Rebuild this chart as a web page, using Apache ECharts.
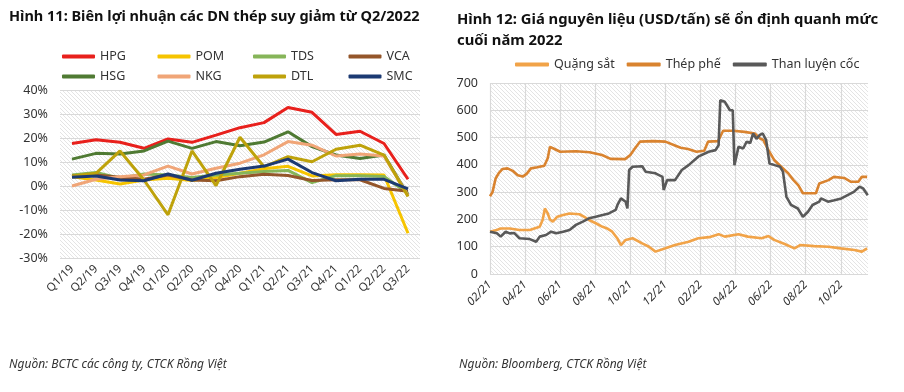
<!DOCTYPE html>
<html><head><meta charset="utf-8">
<script src="https://cdn.jsdelivr.net/npm/echarts@6/dist/echarts.min.js"></script>
<style>html,body{margin:0;padding:0;background:#fff}#c{width:904px;height:392px}</style>
</head><body><div id="c"></div>
<script>
// ---------- Chart 11 data ----------
const quarters = ['Q1/19','Q2/19','Q3/19','Q4/19','Q1/20','Q2/20','Q3/20','Q4/20','Q1/21','Q2/21','Q3/21','Q4/21','Q1/22','Q2/22','Q3/22'];
const HPG = [17.7, 19.3, 18.2, 15.7, 19.6, 18.2, 21.2, 24.3, 26.4, 32.7, 30.7, 21.5, 22.8, 17.7, 2.8];
const POM = [3.9, 2.5, 0.8, 2.5, 3.2, 2.3, 3.5, 5.3, 7.2, 8.2, 4.2, 4.7, 4.7, 4.6, -19.7];
const TDS = [4.6, 5.6, 3.2, 5.0, 4.6, 3.5, 4.6, 5.3, 6.0, 6.5, 1.4, 4.3, 4.3, 4.0, -3.0];
const VCA = [4.2, 4.6, 3.6, 2.8, 4.6, 2.5, 2.2, 3.9, 4.9, 4.4, 2.3, 2.6, 2.6, -1.0, -2.2];
const HSG = [11.2, 13.6, 13.3, 14.6, 18.7, 15.7, 18.5, 16.8, 18.3, 22.6, 16.4, 12.9, 11.5, 12.9, -3.8];
const NKG = [0.0, 2.8, 3.9, 4.6, 8.3, 5.0, 7.4, 9.5, 13.0, 18.5, 17.0, 12.5, 13.3, 12.5, -4.0];
const DTL = [4.2, 5.3, 14.6, 2.5, -12.0, 14.6, 0.2, 20.3, 8.0, 12.2, 10.1, 15.3, 17.0, 12.9, -4.4];
const SMC = [3.6, 4.2, 2.5, 2.2, 5.0, 2.4, 5.3, 7.0, 8.3, 11.2, 5.6, 2.2, 2.8, 2.8, -1.2];

// ---------- Chart 12 data (USD/tấn) ----------
const monthTickLabels = ['02/21','04/21','06/21','08/21','10/21','12/21','02/22','04/22','06/22','08/22','10/22'];
const oreDates = ['2021-02-01','2021-02-10','2021-02-18','2021-03-05','2021-03-22','2021-04-09','2021-04-26','2021-05-01','2021-05-05','2021-05-10','2021-05-14','2021-05-19','2021-05-27','2021-06-06','2021-06-17','2021-07-04','2021-07-12','2021-07-21','2021-08-02','2021-08-14','2021-08-22','2021-08-31','2021-09-09','2021-09-15','2021-09-23','2021-10-05','2021-10-22','2021-11-03','2021-11-14','2021-12-01','2021-12-18','2022-01-11','2022-01-28','2022-02-15','2022-03-02','2022-03-13','2022-04-06','2022-04-22','2022-05-16','2022-05-28','2022-06-07','2022-06-25','2022-07-12','2022-07-22','2022-08-16','2022-09-10','2022-10-01','2022-10-25','2022-11-07','2022-11-16'];
const oreValues = [155,160,167,167,161,161,173,198,240,222,200,192,210,216,222,219,210,198,186,173,167,155,130,106,125,131,112,100,82,94,106,118,131,135,146,137,146,137,131,139,125,110,94,106,102,100,94,88,82,94];
const scrapDates = ['2021-02-01','2021-02-05','2021-02-10','2021-02-15','2021-02-21','2021-03-01','2021-03-10','2021-03-19','2021-03-28','2021-04-04','2021-04-11','2021-04-22','2021-05-04','2021-05-10','2021-05-14','2021-05-22','2021-06-01','2021-06-28','2021-07-22','2021-08-13','2021-08-28','2021-09-22','2021-10-01','2021-10-09','2021-10-18','2021-11-10','2021-12-01','2021-12-19','2021-12-28','2022-01-10','2022-01-25','2022-02-07','2022-02-13','2022-03-01','2022-03-10','2022-03-28','2022-04-16','2022-05-04','2022-05-13','2022-05-19','2022-05-28','2022-06-07','2022-06-19','2022-07-01','2022-07-10','2022-07-19','2022-07-27','2022-08-19','2022-08-25','2022-09-10','2022-09-19','2022-10-07','2022-10-19','2022-11-01','2022-11-07','2022-11-16'];
const scrapValues = [285,300,350,370,385,387,378,362,357,368,387,391,397,424,466,458,448,450,446,436,422,421,436,460,485,487,485,470,463,458,448,452,485,487,525,525,521,515,497,491,454,418,393,369,345,325,296,296,332,344,356,352,338,338,356,356];
const cokeDates = ['2021-02-01','2021-02-12','2021-02-18','2021-02-26','2021-03-05','2021-03-13','2021-03-22','2021-04-09','2021-04-20','2021-04-26','2021-05-07','2021-05-16','2021-05-25','2021-06-06','2021-06-17','2021-06-28','2021-07-10','2021-07-21','2021-08-02','2021-08-14','2021-08-25','2021-09-06','2021-09-09','2021-09-15','2021-09-23','2021-09-26','2021-09-29','2021-10-05','2021-10-22','2021-10-28','2021-11-14','2021-11-26','2021-11-28','2021-12-04','2021-12-18','2021-12-30','2022-01-11','2022-01-28','2022-02-14','2022-02-25','2022-03-02','2022-03-05','2022-03-13','2022-03-22','2022-03-27','2022-03-30','2022-04-06','2022-04-14','2022-04-20','2022-04-26','2022-05-01','2022-05-07','2022-05-13','2022-05-18','2022-05-24','2022-05-30','2022-06-08','2022-06-17','2022-06-22','2022-06-28','2022-07-06','2022-07-18','2022-07-27','2022-08-05','2022-08-13','2022-08-25','2022-08-28','2022-09-09','2022-09-20','2022-10-02','2022-10-13','2022-10-24','2022-11-03','2022-11-09','2022-11-17'];
const cokeValues = [155,149,137,155,149,150,131,128,118,137,143,155,149,155,161,180,192,204,210,216,222,235,253,277,265,240,381,393,395,375,369,356,308,344,344,381,399,430,448,454,472,637,631,600,600,399,466,460,485,480,515,495,510,515,491,405,399,393,375,283,253,240,210,228,253,265,277,265,270,277,289,301,320,314,289];

// months elapsed since 2021-02-01
function toMonths(s){const p=s.split('-').map(Number);const dim=new Date(p[0],p[1],0).getDate();return (p[0]-2021)*12+(p[1]-2)+(p[2]-1)/dim;}
function pairs(d,v){return d.map((s,i)=>[toMonths(s),v[i]]);}

// hatch pattern
const pc=document.createElement('canvas');pc.width=4;pc.height=4;
const g=pc.getContext('2d');g.fillStyle='#ffffff';g.fillRect(0,0,4,4);
g.strokeStyle='#e4e4e4';g.lineWidth=1;g.beginPath();g.moveTo(-1,-1);g.lineTo(5,5);g.moveTo(3,-1);g.lineTo(5,1);g.moveTo(-1,3);g.lineTo(1,5);g.stroke();
const hatch={image:pc,repeat:'repeat'};

const leftColors={HPG:'#e8201c',POM:'#f6c400',TDS:'#86b559',VCA:'#94562a',HSG:'#4f7a33',NKG:'#f0a577',DTL:'#bea20b',SMC:'#1c3a73'};
const leftData={HPG,POM,TDS,VCA,HSG,NKG,DTL,SMC};
const txt='#333';
const FONT='Noto Sans';

const leftSeries=Object.keys(leftData).map(k=>({name:k,type:'line',xAxisIndex:0,yAxisIndex:0,data:leftData[k],symbol:'none',
  lineStyle:{width:3,color:leftColors[k]},itemStyle:{color:leftColors[k]}}));
const rightDefs=[['Quặng sắt',pairs(oreDates,oreValues),'#f1a348'],['Thép phế',pairs(scrapDates,scrapValues),'#d9832f'],['Than luyện cốc',pairs(cokeDates,cokeValues),'#595959']];
const rightSeries=rightDefs.map(d=>({name:d[0],type:'line',xAxisIndex:1,yAxisIndex:1,data:d[1],symbol:'none',
  lineStyle:{width:2.6,color:d[2]},itemStyle:{color:d[2]}}));

function legendOf(extra){
  return Object.assign({icon:'roundRect',itemWidth:33,itemHeight:4,textStyle:{fontFamily:FONT,fontSize:12.5,color:txt}},extra);
}
// left legend: 2 rows x 4 columns at fixed column spacing
const leftLegends=Object.keys(leftData).map((k,i)=>legendOf({left:57+95.5*(i%4),top:45+20*Math.floor(i/4),data:[k]}));

const chart=echarts.init(document.getElementById('c'),null,{renderer:'canvas'});
chart.setOption({
  animation:false,
  title:[
    {text:'Hình 11: Biên lợi nhuận các DN thép suy giảm từ Q2/2022',left:4,top:4,textStyle:{fontFamily:FONT,fontWeight:'bold',fontSize:14.5,color:'#111'}},
    {text:'Hình 12: Giá nguyên liệu (USD/tấn) sẽ ổn định quanh mức\ncuối năm 2022',left:452,top:4,textStyle:{fontFamily:FONT,fontWeight:'bold',fontSize:14.8,lineHeight:21,color:'#111'}},
    {text:'Nguồn: BCTC các công ty, CTCK Rồng Việt',left:4,top:354,textStyle:{fontFamily:FONT,fontStyle:'italic',fontWeight:'normal',fontSize:12,color:txt}},
    {text:'Nguồn: Bloomberg, CTCK Rồng Việt',left:454,top:354,textStyle:{fontFamily:FONT,fontStyle:'italic',fontWeight:'normal',fontSize:12,color:txt}}
  ],
  legend:leftLegends.concat([
    legendOf({left:510,top:53,itemGap:12,itemWidth:34,data:['Quặng sắt','Thép phế','Than luyện cốc']})
  ]),
  grid:[
    {left:60,right:484,top:90,bottom:134,show:true,backgroundColor:hatch,borderWidth:0},
    {left:490,right:36,top:83,bottom:118,show:true,backgroundColor:hatch,borderWidth:0}
  ],
  xAxis:[
    {type:'category',gridIndex:0,data:quarters,boundaryGap:true,axisLine:{show:false},axisTick:{show:false},
     axisLabel:{rotate:45,margin:9,interval:0,fontFamily:FONT,fontSize:11.5,color:txt},splitLine:{show:false}},
    {type:'value',gridIndex:1,min:0,max:21.55,interval:2,axisLine:{show:false},axisTick:{show:false},
     axisLabel:{rotate:45,margin:9,fontFamily:FONT,fontStyle:'italic',fontSize:11.5,color:txt,
       formatter:function(v){const i=Math.round(v/2);return (Math.abs(v-2*i)<1e-6 && monthTickLabels[i])?monthTickLabels[i]:'';}},
     splitLine:{show:true,showMaxLine:false,lineStyle:{color:'#d9d9d9',width:1.2}}}
  ],
  yAxis:[
    {type:'value',gridIndex:0,min:-30,max:40,interval:10,axisLine:{show:false},axisTick:{show:false},
     axisLabel:{formatter:'{value}%',margin:12,fontFamily:FONT,fontSize:12.5,color:txt},
     splitLine:{lineStyle:{color:'#d9d9d9',width:1.2}}},
    {type:'value',gridIndex:1,min:0,max:700,interval:100,axisLine:{show:false},axisTick:{show:false},
     axisLabel:{margin:12,fontFamily:FONT,fontSize:12.5,color:txt},
     splitLine:{lineStyle:{color:'#d9d9d9',width:1.2}}}
  ],
  series:leftSeries.concat(rightSeries)
});
</script></body></html>
